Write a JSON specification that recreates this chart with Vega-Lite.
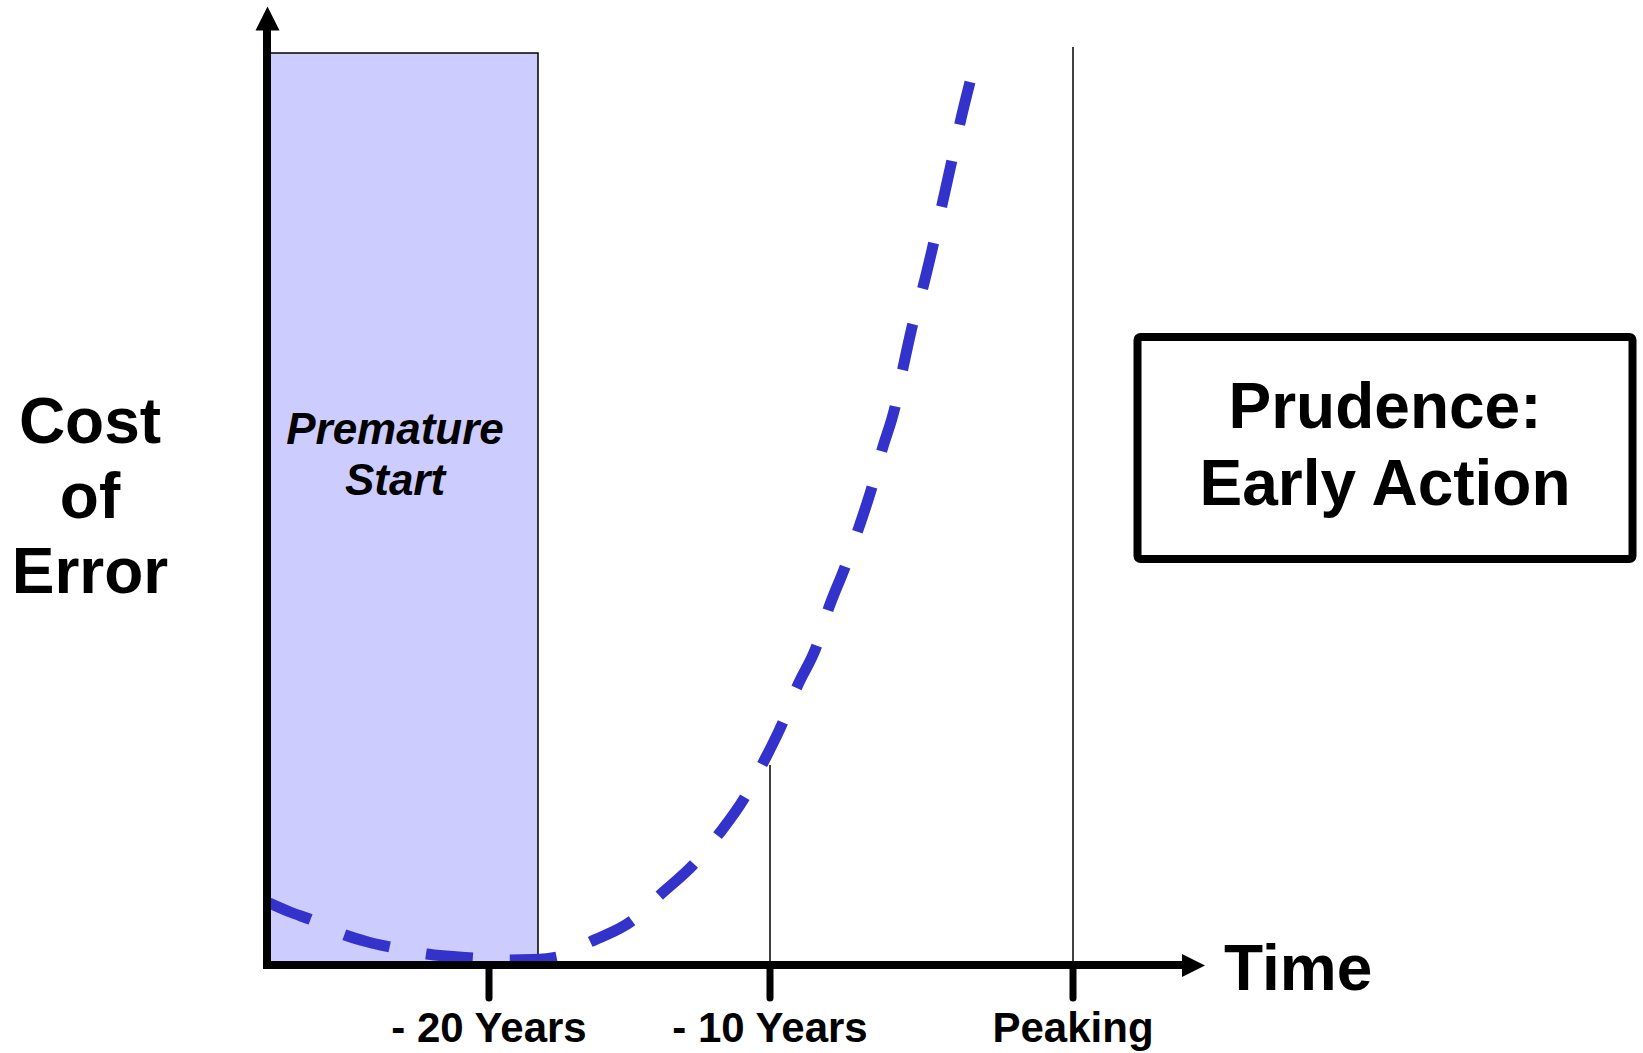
{
  "$schema": "https://vega.github.io/schema/vega-lite/v6.json",
  "width": 1643,
  "height": 1053,
  "autosize": "none",
  "padding": 0,
  "background": "#FFFFFF",
  "config": {
    "view": {"stroke": null},
    "text": {"font": "Liberation Sans", "fontWeight": "bold", "color": "#000000"}
  },
  "datasets": {
    "cost": [
      {"t": 0.0, "cost": 6.3},
      {"t": 2.3, "cost": 5.3},
      {"t": 4.5, "cost": 4.5},
      {"t": 7.8, "cost": 3.0},
      {"t": 10.1, "cost": 2.3},
      {"t": 12.3, "cost": 1.8},
      {"t": 16.0, "cost": 1.1},
      {"t": 20.6, "cost": 0.7},
      {"t": 24.3, "cost": 0.5},
      {"t": 26.6, "cost": 0.55},
      {"t": 29.0, "cost": 0.8},
      {"t": 32.3, "cost": 2.3},
      {"t": 36.6, "cost": 4.5},
      {"t": 39.3, "cost": 7.0},
      {"t": 42.8, "cost": 10.2},
      {"t": 45.1, "cost": 13.0},
      {"t": 47.8, "cost": 16.8},
      {"t": 49.6, "cost": 20.2},
      {"t": 51.6, "cost": 24.3},
      {"t": 53.0, "cost": 27.8},
      {"t": 55.0, "cost": 32.0},
      {"t": 56.1, "cost": 35.5},
      {"t": 57.8, "cost": 39.8},
      {"t": 59.1, "cost": 43.5},
      {"t": 60.5, "cost": 47.8},
      {"t": 61.5, "cost": 51.5},
      {"t": 62.8, "cost": 55.8},
      {"t": 63.6, "cost": 59.7},
      {"t": 64.6, "cost": 64.2},
      {"t": 65.6, "cost": 67.8},
      {"t": 66.5, "cost": 71.5},
      {"t": 67.5, "cost": 76.0},
      {"t": 68.5, "cost": 80.5},
      {"t": 69.3, "cost": 84.2},
      {"t": 70.3, "cost": 88.3}
    ],
    "milestones": [
      {"label": "- 20 Years", "t": 22.2},
      {"label": "- 10 Years", "t": 50.3},
      {"label": "Peaking", "t": 80.6}
    ],
    "one": [{}]
  },
  "layer": [
    {
      "description": "Premature start zone",
      "data": {"name": "one"},
      "mark": {"type": "rect", "fill": "#CCCCFF", "stroke": "#000000", "strokeWidth": 1.5},
      "encoding": {
        "x": {"datum": 0, "type": "quantitative", "scale": {"domain": [-26.7, 137.6], "nice": false, "zero": false}, "axis": null},
        "x2": {"datum": 27.1},
        "y": {"datum": 0, "type": "quantitative", "scale": {"domain": [-8.8, 96.5], "nice": false, "zero": false}, "axis": null},
        "y2": {"datum": 91.2}
      }
    },
    {
      "description": "Guide up to the curve at -10 years",
      "data": {"name": "one"},
      "mark": {"type": "rule", "color": "#000000", "strokeWidth": 1.5},
      "encoding": {
        "x": {"datum": 50.3, "type": "quantitative"},
        "y": {"datum": 0, "type": "quantitative"},
        "y2": {"datum": 20.0}
      }
    },
    {
      "description": "Guide at peaking",
      "data": {"name": "one"},
      "mark": {"type": "rule", "color": "#000000", "strokeWidth": 1.5},
      "encoding": {
        "x": {"datum": 80.6, "type": "quantitative"},
        "y": {"datum": 0, "type": "quantitative"},
        "y2": {"datum": 91.8}
      }
    },
    {
      "description": "Cost of error curve",
      "data": {"name": "cost"},
      "mark": {"type": "line", "color": "#3333CC", "strokeWidth": 11, "strokeDash": [47, 37], "strokeCap": "butt", "interpolate": "monotone"},
      "encoding": {
        "x": {"field": "t", "type": "quantitative"},
        "y": {"field": "cost", "type": "quantitative"}
      }
    },
    {
      "description": "Vertical axis line",
      "data": {"name": "one"},
      "mark": {"type": "rule", "color": "#000000", "strokeWidth": 8},
      "encoding": {
        "x": {"datum": 0, "type": "quantitative"},
        "y": {"datum": -0.4, "type": "quantitative"},
        "y2": {"datum": 93.6}
      }
    },
    {
      "description": "Horizontal axis line",
      "data": {"name": "one"},
      "mark": {"type": "rule", "color": "#000000", "strokeWidth": 8},
      "encoding": {
        "x": {"datum": -0.4, "type": "quantitative"},
        "x2": {"datum": 92.0},
        "y": {"datum": 0, "type": "quantitative"}
      }
    },
    {
      "description": "Arrowhead on the vertical axis",
      "data": {"name": "one"},
      "mark": {"type": "point", "shape": "M0,-1L1,1L-1,1Z", "size": 576, "filled": true, "opacity": 1, "color": "#000000", "strokeWidth": 0},
      "encoding": {
        "x": {"datum": 0.05, "type": "quantitative"},
        "y": {"datum": 94.65, "type": "quantitative"}
      }
    },
    {
      "description": "Arrowhead on the horizontal axis",
      "data": {"name": "one"},
      "mark": {"type": "point", "shape": "M1,0L-1,-1L-1,1Z", "size": 529, "filled": true, "opacity": 1, "color": "#000000", "strokeWidth": 0},
      "encoding": {
        "x": {"datum": 92.65, "type": "quantitative"},
        "y": {"datum": -0.05, "type": "quantitative"}
      }
    },
    {
      "description": "Tick marks",
      "data": {"name": "milestones"},
      "mark": {"type": "rule", "color": "#000000", "strokeWidth": 7, "strokeCap": "round"},
      "encoding": {
        "x": {"field": "t", "type": "quantitative"},
        "y": {"datum": 0, "type": "quantitative"},
        "y2": {"datum": -3.3}
      }
    },
    {
      "description": "Tick labels",
      "data": {"name": "milestones"},
      "mark": {"type": "text", "fontSize": 42, "align": "center", "baseline": "alphabetic"},
      "encoding": {
        "x": {"field": "t", "type": "quantitative"},
        "y": {"datum": -7.7, "type": "quantitative"},
        "text": {"field": "label"}
      }
    },
    {
      "description": "Zone label",
      "data": {"name": "one"},
      "mark": {"type": "text", "text": ["Premature", "Start"], "fontSize": 44, "fontStyle": "italic", "lineHeight": 51, "align": "center", "baseline": "alphabetic"},
      "encoding": {
        "x": {"datum": 12.8, "type": "quantitative"},
        "y": {"datum": 52.1, "type": "quantitative"}
      }
    },
    {
      "description": "Vertical axis title",
      "data": {"name": "one"},
      "mark": {"type": "text", "text": ["Cost", "of", "Error"], "fontSize": 64, "lineHeight": 75, "align": "center", "baseline": "alphabetic"},
      "encoding": {
        "x": {"datum": -17.7, "type": "quantitative"},
        "y": {"datum": 52.2, "type": "quantitative"}
      }
    },
    {
      "description": "Horizontal axis title",
      "data": {"name": "one"},
      "mark": {"type": "text", "text": "Time", "fontSize": 64, "align": "left", "baseline": "alphabetic"},
      "encoding": {
        "x": {"datum": 95.7, "type": "quantitative"},
        "y": {"datum": -2.5, "type": "quantitative"}
      }
    },
    {
      "description": "Message box frame",
      "data": {"name": "one"},
      "mark": {"type": "rect", "fill": "#FFFFFF", "stroke": "#000000", "strokeWidth": 8, "cornerRadius": 3},
      "encoding": {
        "x": {"datum": 87.05, "type": "quantitative"},
        "x2": {"datum": 136.55},
        "y": {"datum": 62.8, "type": "quantitative"},
        "y2": {"datum": 40.6}
      }
    },
    {
      "description": "Message box text",
      "data": {"name": "one"},
      "mark": {"type": "text", "text": ["Prudence:", "Early Action"], "fontSize": 64, "lineHeight": 77, "align": "center", "baseline": "alphabetic"},
      "encoding": {
        "x": {"datum": 111.8, "type": "quantitative"},
        "y": {"datum": 53.7, "type": "quantitative"}
      }
    }
  ]
}
